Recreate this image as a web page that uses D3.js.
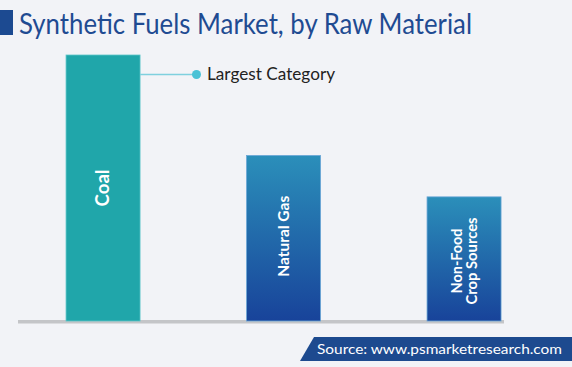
<!DOCTYPE html>
<html><head><meta charset="utf-8">
<script src="https://cdn.jsdelivr.net/npm/d3@7"></script>
<style>html,body{margin:0;padding:0;background:#f2f3f7;}svg{display:block;}</style>
</head><body>
<script>
const categories = ["Coal", "Natural Gas", "Non-Food Crop Sources"];
const labelLines = [["Coal"], ["Natural Gas"], ["Non-Food", "Crop Sources"]];
const values = [45, 28, 21];
const title = "Synthetic Fuels Market, by Raw Material";
const annotation = "Largest Category";
const source = "Source: www.psmarketresearch.com";

const W = 572, H = 367, baseY = 321;
const svg = d3.select("body").append("svg").attr("width", W).attr("height", H);
svg.append("rect").attr("width", W).attr("height", H).attr("fill", "#f2f3f7");

const defs = svg.append("defs");
const g = defs.append("linearGradient").attr("id", "blueGrad").attr("x1", 0).attr("y1", 0).attr("x2", 0).attr("y2", 1);
g.append("stop").attr("offset", "0%").attr("stop-color", "#2b8fba");
g.append("stop").attr("offset", "100%").attr("stop-color", "#18439a");

// Title
svg.append("rect").attr("x", 0).attr("y", 10).attr("width", 13).attr("height", 25).attr("fill", "#1c4a91");
svg.append("text").attr("x", 19).attr("y", 34).text(title)
  .attr("font-family", "Lato, sans-serif").attr("font-size", 28).attr("fill", "#1f4b92")
  .attr("textLength", 453).attr("lengthAdjust", "spacingAndGlyphs");

const x = d3.scaleBand().domain(categories).range([12.8, 554.3]).paddingInner(0.59).paddingOuter(0.295);
const y = d3.scaleLinear().domain([0, 45]).range([baseY, 55]);

// axis line
svg.append("rect").attr("x", 18).attr("y", 320).attr("width", 486).attr("height", 3.5).attr("fill", "#c4c5c8");

svg.selectAll("rect.bar").data(categories).enter().append("rect").attr("class", "bar")
  .attr("x", d => x(d)).attr("width", x.bandwidth())
  .attr("y", (d, i) => y(values[i])).attr("height", (d, i) => baseY - y(values[i]))
  .attr("fill", (d, i) => i === 0 ? "#20a6aa" : "url(#blueGrad)")
  .attr("stroke", (d, i) => i === 0 ? "#5cc6c9" : "#6aa6d6").attr("stroke-width", 0.8);

const fs = [18, 14.5, 14.5];
const lens = [[37], [81], [65, 87]];
categories.forEach((c, i) => {
  const cx = x(c) + x.bandwidth() / 2;
  const cy = (y(values[i]) + baseY) / 2 + (i === 0 ? 0 : (i === 1 ? -2 : 2));
  const lines = labelLines[i];
  const lh = fs[i] * 1.05;
  const t = svg.append("text").attr("transform", `translate(${cx},${cy}) rotate(-90)`)
    .attr("text-anchor", "middle").attr("fill", "#ffffff").attr("font-weight", "bold")
    .attr("font-family", "Lato, sans-serif").attr("font-size", fs[i]);
  lines.forEach((l, k) => {
    t.append("tspan").attr("x", 0).attr("y", (k - (lines.length - 1) / 2) * lh + fs[i] * 0.35)
      .attr("textLength", lens[i][k]).attr("lengthAdjust", "spacingAndGlyphs").text(l);
  });
});

// annotation
const ax = x(categories[0]) + x.bandwidth();
const ay = 74.5;
svg.append("line").attr("x1", ax).attr("x2", 196).attr("y1", ay).attr("y2", ay).attr("stroke", "#7fd0de").attr("stroke-width", 1.5);
svg.append("circle").attr("cx", 196.5).attr("cy", ay).attr("r", 4.5).attr("fill", "#4ac2d6");
svg.append("text").attr("x", 207).attr("y", 80).text(annotation)
  .attr("font-family", "Lato, sans-serif").attr("font-size", 16.5).attr("fill", "#222")
  .attr("textLength", 128).attr("lengthAdjust", "spacingAndGlyphs");

// source
svg.append("path").attr("d", "M300,361 L314,337 L572,337 L572,361 Z").attr("fill", "#1d4a8f");
svg.append("text").attr("x", 317).attr("y", 354).text(source)
  .attr("font-family", "Lato, sans-serif").attr("font-size", 13).attr("fill", "#ffffff")
  .attr("textLength", 245).attr("lengthAdjust", "spacingAndGlyphs");
</script>
</body></html>
